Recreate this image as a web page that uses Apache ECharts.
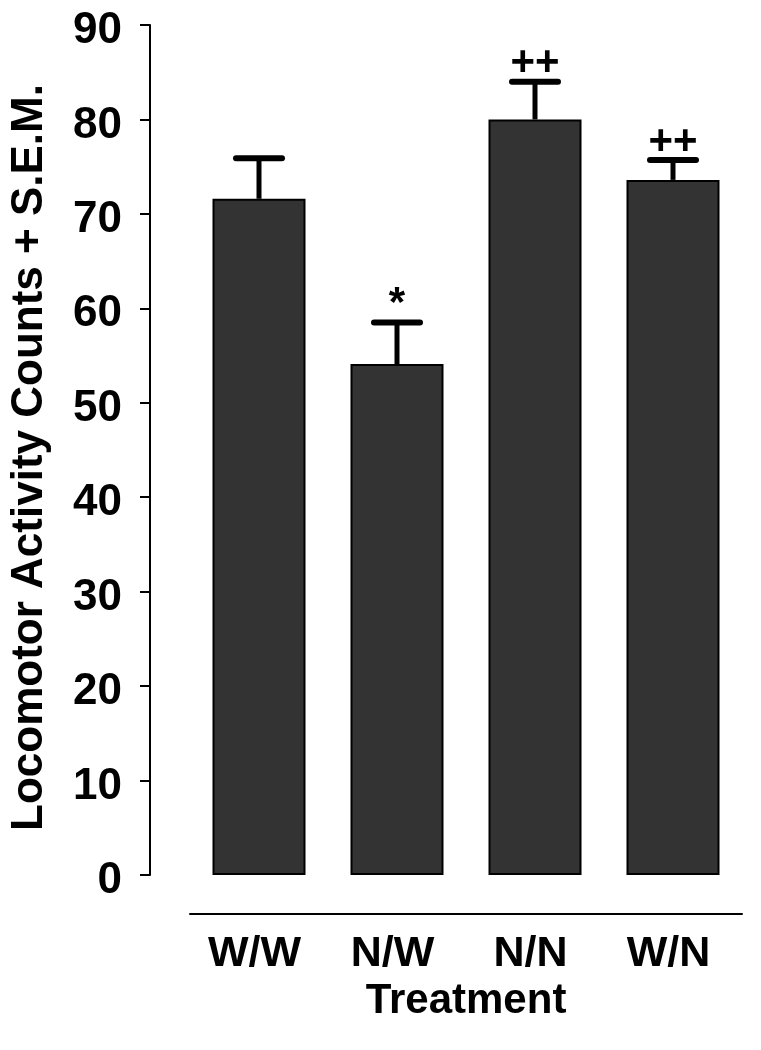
<!DOCTYPE html>
<html>
<head>
<meta charset="utf-8">
<script src="https://cdn.jsdelivr.net/npm/echarts@6/dist/echarts.min.js"></script>
<style>
html,body{margin:0;padding:0;background:#fff;}
#chart{width:761px;height:1050px;}
</style>
</head>
<body>
<div id="chart"></div>
<script>
var categories = ['W/W', 'N/W', 'N/N', 'W/N'];
var means = [71.6, 54.1, 80.0, 73.6];
var sems = [4.3, 4.4, 4.0, 2.1];
var markers = ['', '*', '++', '++'];
var yTicks = [0, 10, 20, 30, 40, 50, 60, 70, 80, 90];

var FONT = '"Liberation Sans", Arial, Helvetica, sans-serif';
var chart = echarts.init(document.getElementById('chart'), null, {renderer: 'canvas'});

var errData = categories.map(function (c, i) { return [i, means[i], sems[i]]; });

chart.setOption({
  animation: false,
  backgroundColor: '#fff',
  grid: {left: 188, right: 19, top: 25, bottom: 175, containLabel: false},
  xAxis: {
    type: 'category',
    data: categories,
    offset: 39,
    name: 'Treatment',
    nameLocation: 'middle',
    nameGap: 66,
    nameTextStyle: {fontFamily: FONT, fontWeight: 'bold', fontSize: 42, color: '#000'},
    axisLine: {show: true, onZero: false, lineStyle: {color: '#000', width: 2}},
    axisTick: {show: false},
    axisLabel: {fontFamily: FONT, fontWeight: 'bold', fontSize: 43, color: '#000', margin: 19, padding: [0, 9, 0, 0]},
    splitLine: {show: false}
  },
  yAxis: {
    type: 'value',
    min: yTicks[0],
    max: yTicks[yTicks.length - 1],
    interval: 10,
    offset: 40,
    name: 'Locomotor Activity Counts + S.E.M.',
    nameLocation: 'middle',
    nameGap: 98,
    nameTextStyle: {fontFamily: FONT, fontWeight: 'bold', fontSize: 44, color: '#000', padding: [0, 15, 0, 0]},
    axisLine: {show: true, lineStyle: {color: '#000', width: 2}},
    axisTick: {show: true, inside: false, length: 10, lineStyle: {color: '#000', width: 2}},
    axisLabel: {
      margin: 28,
      formatter: '{v|{value}}',
      rich: {v: {fontFamily: FONT, fontWeight: 'bold', fontSize: 44, color: '#000', padding: [12, 0, 0, 0]}}
    },
    splitLine: {show: false}
  },
  series: [
    {
      type: 'bar',
      data: means,
      barWidth: 93,
      itemStyle: {color: '#333333', borderColor: '#000', borderWidth: 2}
    },
    {
      type: 'custom',
      data: errData,
      z: 5,
      renderItem: function (params, api) {
        var i = api.value(0);
        var m = api.value(1);
        var s = api.value(2);
        var mk = markers[params.dataIndex];
        var base = api.coord([i, m]);
        var top = api.coord([i, m + s]);
        var half = 23;
        var children = [
          {type: 'line', shape: {x1: top[0], y1: base[1], x2: top[0], y2: top[1]},
           style: {stroke: '#000', lineWidth: 5}},
          {type: 'line', shape: {x1: top[0] - half, y1: top[1], x2: top[0] + half, y2: top[1]},
           style: {stroke: '#000', lineWidth: 6, lineCap: 'round'}}
        ];
        if (mk) {
          children.push({type: 'text', style: {text: mk, x: top[0], y: top[1] - 18,
            align: 'center', verticalAlign: 'middle', fill: '#000',
            font: 'bold 42px ' + FONT}});
        }
        return {type: 'group', children: children};
      }
    }
  ]
});
</script>
</body>
</html>
